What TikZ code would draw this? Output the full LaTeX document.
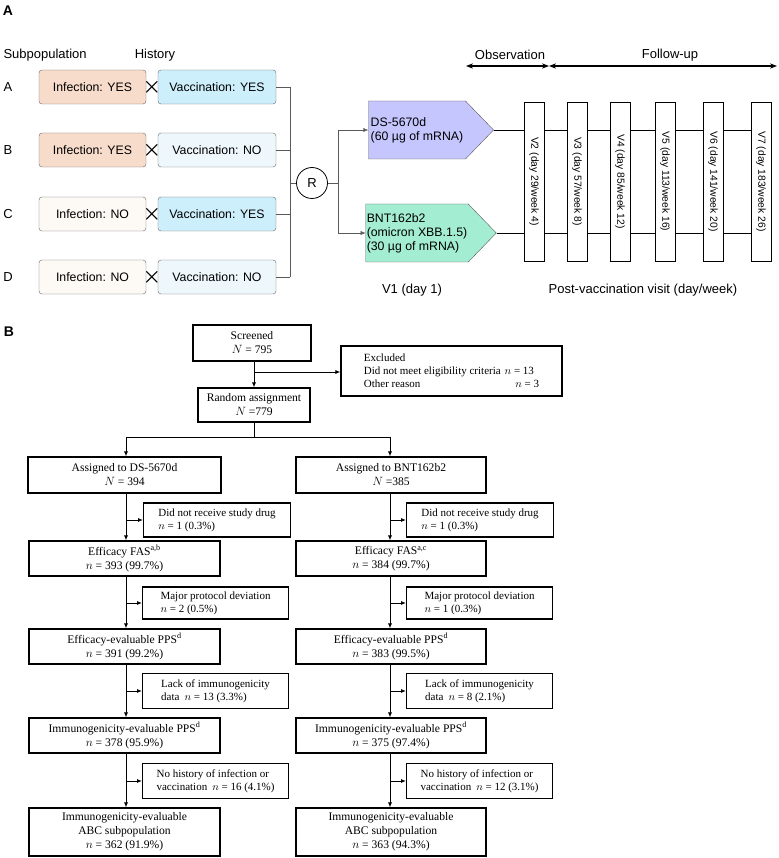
\documentclass[tikz,border=0pt]{standalone}
\usepackage{amsmath}
\usepackage{fontspec}
\setmainfont{Liberation Serif}
\newfontfamily\sansf{Liberation Sans}
\usetikzlibrary{shapes.symbols,arrows.meta}
\definecolor{yesinf}{HTML}{F8DCCB}
\definecolor{noinf}{HTML}{FDF9F5}
\definecolor{yesvac}{HTML}{CDEFFB}
\definecolor{novac}{HTML}{EEF8FC}
\definecolor{dsfill}{HTML}{C6C6FF}
\definecolor{bntfill}{HTML}{A3EDD2}
\tikzset{
  hist/.style={draw=gray!80!black, rounded corners=3pt, minimum height=34pt, inner sep=1pt,
    font=\sansf\fontsize{12.3}{14}\selectfont},
  inf/.style={hist, minimum width=107pt},
  vac/.style={hist, minimum width=118pt},
  lab/.style={font=\sansf\fontsize{13}{15}\selectfont},
  drug/.style={signal, signal to=east, signal pointer angle=92, draw=gray!70!black,
    minimum height=58pt, minimum width=125pt, inner sep=1pt, align=left,
    font=\sansf\fontsize{12.3}{14}\selectfont},
  visit/.style={draw, minimum width=20pt, minimum height=159pt, inner sep=0pt,
    font=\sansf\fontsize{10.3}{12}\selectfont},
  box/.style={draw, line width=1.1pt, align=center, inner sep=2pt,
    font=\fontsize{11.6}{14}\selectfont},
  side/.style={draw, line width=1.1pt, align=left, anchor=west, inner sep=2pt,
    font=\fontsize{11}{13}\selectfont},
  flow/.style={line width=0.9pt, -{Latex[length=5pt,width=4pt]}}
}
\begin{document}
\begin{tikzpicture}[x=1pt, y=-1pt]
\useasboundingbox (0,0) rectangle (778,858);

% panel A
\node[font=\sansf\bfseries\fontsize{14}{16}\selectfont] (pa) at (8,11) {A};
\node[lab, anchor=west] (subpop) at (0,55) {Subpopulation};
\node[lab] (hist) at (155,55) {History};

\foreach \r/\y/\ic/\it/\vc/\vt in {A/87/yesinf/YES/yesvac/YES, B/150/yesinf/YES/novac/NO,
    C/214/noinf/NO/yesvac/YES, D/277/noinf/NO/novac/NO}{
  \node[lab] (row\r) at (8,\y) {\r};
  \node[inf, fill=\ic] (inf\r) at (92.5,\y) {Infection: \it};
  \node[vac, fill=\vc] (vac\r) at (217,\y) {Vaccination: \vt};
  \node[font=\huge, inner sep=0pt] (x\r) at (152,\y) {$\boldsymbol{\times}$};
  \draw[gray!70!black] (vac\r.east) -- (290,\y);
}
\node[draw, thick, circle, minimum size=31pt, inner sep=0pt, lab] (R) at (312,183) {R};
\draw[gray!70!black] (290,87) -- (290,277);
\draw[gray!70!black] (290,183) -- (R.west);

\node[drug, fill=dsfill] (ds) at (417,130) {DS-5670d\\(60 \textmu g of mRNA)};
\node[drug, fill=bntfill] (bnt) at (417,233) {BNT162b2\\(omicron XBB.1.5)\\(30 \textmu g of mRNA)};
\coordinate (rfork) at (338,183);
\draw[gray!70!black] (R.east) -- (rfork);
\draw[gray!70!black, -{Latex[length=5pt,width=4pt]}] (rfork) |- (ds.west);
\draw[gray!70!black, -{Latex[length=5pt,width=4pt]}] (rfork) |- (bnt.west);

\foreach \v/\x/\d/\w in {2/534/29/4, 3/577/57/8, 4/620/85/12, 5/665/113/16,
    6/713/141/20, 7/761/183/26}{
  \node[visit] (v\v) at (\x,181.5) {\rotatebox{-90}{V\v\ (day \d/week \w)}};
}
\draw (ds.east) -- (ds.east -| v2.west);
\draw (bnt.east) -- (bnt.east -| v2.west);
\foreach \a/\b in {2/3,3/4,4/5,5/6,6/7}{
  \draw (v\a.east |- ds.east) -- (v\b.west |- ds.east);
  \draw (v\a.east |- bnt.east) -- (v\b.west |- bnt.east);
}
\coordinate (obsL) at (466,66);
\coordinate (obsR) at (549,66);
\coordinate (fupR) at (777,66);
\draw[line width=1.3pt, {Stealth[length=7pt]}-{Stealth[length=7pt]}] (obsL) -- (obsR);
\draw[line width=1.3pt, {Stealth[length=7pt]}-{Stealth[length=7pt]}] (obsR) -- (fupR);
\node[lab] (obs) at (510,55) {Observation};
\node[lab] (fup) at (670,55) {Follow-up};
\node[lab] (v1) at (412,290) {V1 (day 1)};
\node[lab] (post) at (643,290) {Post-vaccination visit (day/week)};

% panel B
\node[font=\sansf\bfseries\fontsize{14}{16}\selectfont] (pb) at (9,332) {B};
\node[box, minimum width=118pt, minimum height=36pt] (scr) at (252,343) {Screened\\$N$ = 795};
\node[side, minimum width=221pt, minimum height=50pt, anchor=center] (excl) at (451.5,371)
  {Excluded\\Did not meet eligibility criteria\hspace{4pt}$n$ = 13\\Other reason\hspace{95pt}$n$ = 3};
\node[box, minimum width=112pt, minimum height=34pt] (rand) at (254,405) {Random assignment\\$N$ =779};
\coordinate (exbr) at (254,372);
\draw[flow] (exbr) -- (excl.west |- exbr);
\draw[flow] (scr.south -| rand.north) -- (rand.north);
\coordinate (split) at (254,437);
\coordinate (colL) at (126,0);
\coordinate (colR) at (390,0);

\node[box, minimum width=193pt, minimum height=36pt] (asgL) at (124.5,475) {Assigned to DS-5670d\\$N$ = 394};
\node[box, minimum width=190pt, minimum height=36pt] (asgR) at (391,475) {Assigned to BNT162b2\\$N$ =385};
\draw[line width=0.9pt] (rand.south) -- (split);
\draw[flow] (split) -| (colL |- asgL.north);
\draw[flow] (split) -| (colR |- asgR.north);

\node[box, minimum width=191pt, minimum height=35pt] (fasL) at (124.5,558.5) {Efficacy FAS\textsuperscript{a,b}\\$n$ = 393 (99.7\%)};
\node[box, minimum width=190pt, minimum height=35pt] (fasR) at (391,558.5) {Efficacy FAS\textsuperscript{a,c}\\$n$ = 384 (99.7\%)};
\node[box, minimum width=191pt, minimum height=35pt] (eeL) at (124.5,646.5) {Efficacy-evaluable PPS\textsuperscript{d}\\$n$ = 391 (99.2\%)};
\node[box, minimum width=190pt, minimum height=35pt] (eeR) at (391,646.5) {Efficacy-evaluable PPS\textsuperscript{d}\\$n$ = 383 (99.5\%)};
\node[box, minimum width=191pt, minimum height=35pt] (ipL) at (124.5,735.5) {Immunogenicity-evaluable PPS\textsuperscript{d}\\$n$ = 378 (95.9\%)};
\node[box, minimum width=190pt, minimum height=35pt] (ipR) at (391,735.5) {Immunogenicity-evaluable PPS\textsuperscript{d}\\$n$ = 375 (97.4\%)};
\node[box, minimum width=191pt, minimum height=48pt] (abcL) at (124.5,832) {Immunogenicity-evaluable\\ABC subpopulation\\$n$ = 362 (91.9\%)};
\node[box, minimum width=190pt, minimum height=48pt] (abcR) at (391,832) {Immunogenicity-evaluable\\ABC subpopulation\\$n$ = 363 (94.3\%)};

% exclusion side boxes
\node[side, minimum width=147pt, minimum height=34pt] (dnrL) at (143,520) {Did not receive study drug\\$n$ = 1 (0.3\%)};
\node[side, minimum width=147pt, minimum height=34pt] (dnrR) at (406,520) {Did not receive study drug\\$n$ = 1 (0.3\%)};
\node[side, minimum width=146pt, minimum height=32pt] (mpdL) at (142,603) {Major protocol deviation\\$n$ = 2 (0.5\%)};
\node[side, minimum width=146pt, minimum height=32pt] (mpdR) at (406,603) {Major protocol deviation\\$n$ = 1 (0.3\%)};
\node[side, minimum width=146pt, minimum height=35pt] (lackL) at (142,691) {Lack of immunogenicity\\data\hspace{5pt}$n$ = 13 (3.3\%)};
\node[side, minimum width=146pt, minimum height=35pt] (lackR) at (406,691) {Lack of immunogenicity\\data\hspace{5pt}$n$ = 8 (2.1\%)};
\node[side, minimum width=146pt, minimum height=35pt] (nohL) at (142,781) {No history of infection or\\vaccination\hspace{5pt}$n$ = 16 (4.1\%)};
\node[side, minimum width=146pt, minimum height=35pt] (nohR) at (406,781) {No history of infection or\\vaccination\hspace{5pt}$n$ = 12 (3.1\%)};

\foreach \c in {L,R}{
  \draw[flow] (col\c |- asg\c.south) -- (col\c |- fas\c.north);
  \draw[flow] (col\c |- fas\c.south) -- (col\c |- ee\c.north);
  \draw[flow] (col\c |- ee\c.south) -- (col\c |- ip\c.north);
  \draw[flow] (col\c |- ip\c.south) -- (col\c |- abc\c.north);
  \draw[flow] (col\c |- dnr\c.west) -- (dnr\c.west);
  \draw[flow] (col\c |- mpd\c.west) -- (mpd\c.west);
  \draw[flow] (col\c |- lack\c.west) -- (lack\c.west);
  \draw[flow] (col\c |- noh\c.west) -- (noh\c.west);
}
\end{tikzpicture}
\end{document}
